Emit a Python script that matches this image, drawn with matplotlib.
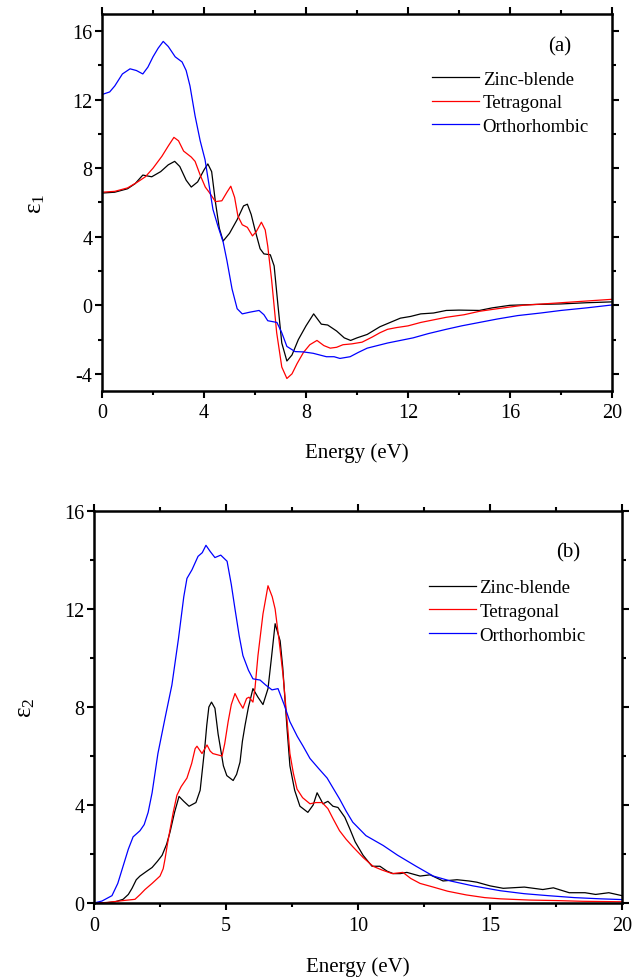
import numpy as np
import matplotlib
matplotlib.use("Agg")
import matplotlib.pyplot as plt
from matplotlib.ticker import MultipleLocator

plt.rcParams['font.family'] = ['Liberation Serif', 'DejaVu Serif']
plt.rcParams['mathtext.fontset'] = 'custom'
plt.rcParams['mathtext.rm'] = 'Liberation Sans'
plt.rcParams['mathtext.it'] = 'Liberation Sans'
plt.rcParams['axes.unicode_minus'] = False

labels = ['Zinc-blende', 'Tetragonal', 'Orthorhombic']
colors = ['black', 'red', 'blue']

# ---- eps1 (real part) ----
zb_e1 = [(0, 6.55), (0.5, 6.6), (1.0, 6.8), (1.3, 7.1), (1.6, 7.6), (1.95, 7.5), (2.3, 7.8), (2.6, 8.2),
         (2.85, 8.4), (3.05, 8.1), (3.3, 7.3), (3.5, 6.9), (3.75, 7.2), (4.0, 7.9), (4.15, 8.25), (4.3, 7.8),
         (4.45, 6.0), (4.6, 4.5), (4.75, 3.75), (5.0, 4.2), (5.3, 5.0), (5.55, 5.8), (5.7, 5.9), (5.85, 5.3),
         (6.0, 4.4), (6.2, 3.3), (6.35, 3.0), (6.6, 2.95), (6.75, 2.3), (6.9, 0.0), (7.05, -2.2), (7.25, -3.25),
         (7.45, -2.9), (7.7, -2.0), (8.0, -1.2), (8.3, -0.5), (8.45, -0.8), (8.6, -1.1), (8.85, -1.15),
         (9.2, -1.5), (9.5, -1.9), (9.75, -2.05), (10.0, -1.9), (10.4, -1.7), (10.9, -1.25), (11.3, -1.0),
         (11.7, -0.75), (12.1, -0.65), (12.5, -0.5), (13.0, -0.45), (13.5, -0.3), (14.0, -0.28), (14.8, -0.3),
         (15.3, -0.15), (16.0, 0.0), (17.0, 0.05), (18.0, 0.08), (19.0, 0.15), (20.0, 0.2)]
tet_e1 = [(0, 6.6), (0.5, 6.65), (1.0, 6.85), (1.4, 7.2), (1.7, 7.5), (2.0, 8.0), (2.35, 8.7), (2.6, 9.3),
          (2.82, 9.8), (3.0, 9.6), (3.2, 9.0), (3.5, 8.65), (3.65, 8.4), (3.85, 7.6), (4.05, 6.9), (4.2, 6.6),
          (4.45, 6.05), (4.7, 6.1), (4.9, 6.6), (5.05, 6.95), (5.2, 6.3), (5.33, 5.2), (5.5, 4.7), (5.7, 4.55),
          (5.9, 4.05), (6.05, 4.3), (6.25, 4.85), (6.4, 4.4), (6.5, 3.45), (6.65, 1.5), (6.85, -1.6),
          (7.05, -3.6), (7.25, -4.27), (7.45, -4.0), (7.65, -3.4), (7.9, -2.75), (8.15, -2.3), (8.43, -2.05),
          (8.7, -2.35), (8.95, -2.5), (9.2, -2.45), (9.45, -2.3), (9.8, -2.25), (10.2, -2.15), (10.6, -1.85),
          (10.9, -1.6), (11.2, -1.4), (11.55, -1.3), (12.0, -1.2), (12.5, -1.0), (13.0, -0.85), (13.5, -0.7),
          (14.2, -0.55), (14.8, -0.35), (15.5, -0.2), (16.5, 0.0), (17.5, 0.1), (18.5, 0.2), (20.0, 0.35)]
orth_e1 = [(0, 12.3), (0.3, 12.45), (0.5, 12.8), (0.8, 13.5), (1.1, 13.8), (1.35, 13.7), (1.6, 13.5),
           (1.8, 13.9), (2.0, 14.5), (2.2, 15.0), (2.4, 15.4), (2.6, 15.1), (2.87, 14.5), (3.14, 14.2),
           (3.3, 13.7), (3.45, 12.8), (3.65, 11.05), (3.85, 9.6), (4.04, 8.5), (4.2, 7.0), (4.35, 5.6),
           (4.55, 4.6), (4.75, 3.7), (4.9, 2.6), (5.1, 0.95), (5.3, -0.2), (5.5, -0.5), (5.8, -0.4),
           (6.16, -0.3), (6.35, -0.55), (6.5, -0.9), (6.86, -1.0), (7.05, -1.6), (7.25, -2.4), (7.57, -2.7),
           (7.9, -2.72), (8.28, -2.8), (8.8, -3.0), (9.1, -3.0), (9.33, -3.1), (9.73, -3.0), (10.05, -2.75),
           (10.4, -2.5), (10.8, -2.35), (11.2, -2.2), (11.7, -2.05), (12.2, -1.9), (12.8, -1.65), (13.5, -1.4),
           (14.1, -1.2), (14.8, -1.0), (15.5, -0.8), (16.3, -0.6), (17.2, -0.45), (18.0, -0.3), (19.0, -0.15),
           (20.0, 0.02)]

# ---- eps2 (imaginary part) ----
zb_e2 = [(0, 0), (0.5, 0.02), (0.8, 0.05), (1.1, 0.15), (1.3, 0.35), (1.44, 0.6), (1.6, 0.95), (1.74, 1.1),
         (2.0, 1.3), (2.2, 1.45), (2.4, 1.7), (2.58, 1.95), (2.75, 2.4), (2.88, 2.9), (3.05, 3.7), (3.22, 4.35),
         (3.4, 4.15), (3.6, 3.95), (3.86, 4.1), (4.02, 4.6), (4.12, 5.6), (4.2, 6.4), (4.27, 7.25), (4.35, 8.0),
         (4.45, 8.2), (4.58, 7.95), (4.7, 6.9), (4.77, 6.45), (4.9, 5.6), (5.03, 5.2), (5.27, 5.0), (5.4, 5.25),
         (5.53, 5.75), (5.62, 6.6), (5.72, 7.25), (5.85, 8.0), (6.02, 8.75), (6.21, 8.4), (6.4, 8.1),
         (6.59, 8.75), (6.72, 10.0), (6.86, 11.4), (7.05, 10.7), (7.15, 9.6), (7.23, 8.35), (7.32, 7.0),
         (7.42, 5.6), (7.6, 4.6), (7.8, 3.95), (8.1, 3.7), (8.3, 4.0), (8.45, 4.5), (8.6, 4.2), (8.67, 4.05),
         (8.86, 4.15), (9.05, 3.95), (9.24, 3.9), (9.5, 3.5), (9.7, 3.0), (9.89, 2.5), (10.19, 1.95),
         (10.53, 1.5), (10.83, 1.5), (11.1, 1.3), (11.33, 1.2), (11.6, 1.2), (11.85, 1.25), (12.35, 1.1),
         (12.73, 1.15), (13.22, 0.9), (13.75, 0.95), (14.2, 0.9), (14.5, 0.85), (15.0, 0.7), (15.5, 0.6),
         (16.3, 0.65), (17.0, 0.55), (17.4, 0.62), (18.0, 0.42), (18.6, 0.42), (19.0, 0.35), (19.5, 0.42),
         (20.0, 0.3)]
tet_e2 = [(0, 0), (0.5, 0.02), (1.1, 0.1), (1.55, 0.15), (1.75, 0.35), (1.93, 0.55), (2.2, 0.8), (2.5, 1.1),
          (2.62, 1.4), (2.69, 1.8), (2.78, 2.4), (2.88, 3.0), (3.0, 3.7), (3.14, 4.4), (3.3, 4.75), (3.52, 5.1),
          (3.7, 5.7), (3.83, 6.3), (3.9, 6.4), (4.09, 6.1), (4.28, 6.45), (4.4, 6.2), (4.5, 6.1), (4.85, 6.0),
          (4.95, 6.5), (5.08, 7.4), (5.2, 8.1), (5.34, 8.55), (5.5, 8.2), (5.64, 7.95), (5.78, 8.35),
          (5.87, 8.4), (6.02, 8.2), (6.1, 8.8), (6.21, 10.1), (6.4, 11.8), (6.59, 12.95), (6.75, 12.5),
          (6.86, 12.0), (7.0, 10.8), (7.16, 9.3), (7.3, 7.6), (7.42, 6.1), (7.55, 5.3), (7.69, 4.65),
          (7.9, 4.3), (8.18, 4.05), (8.4, 4.1), (8.64, 4.1), (8.86, 3.85), (9.05, 3.45), (9.3, 2.95),
          (9.55, 2.6), (9.8, 2.3), (10.2, 1.85), (10.57, 1.5), (10.9, 1.35), (11.3, 1.2), (11.7, 1.25),
          (12.0, 1.0), (12.35, 0.8), (12.85, 0.65), (13.4, 0.48), (14.1, 0.33), (14.8, 0.22), (15.4, 0.17),
          (16.5, 0.12), (17.5, 0.1), (18.5, 0.07), (20.0, 0.05)]
orth_e2 = [(0, 0), (0.3, 0.08), (0.68, 0.3), (0.9, 0.8), (1.1, 1.5), (1.3, 2.2), (1.48, 2.7), (1.74, 2.95),
           (1.9, 3.2), (2.05, 3.7), (2.2, 4.5), (2.42, 6.1), (2.7, 7.6), (2.95, 8.9), (3.2, 10.8), (3.4, 12.5),
           (3.52, 13.25), (3.71, 13.6), (3.94, 14.15), (4.1, 14.3), (4.24, 14.6), (4.4, 14.35), (4.58, 14.1),
           (4.8, 14.2), (5.04, 13.95), (5.2, 13.0), (5.34, 12.0), (5.5, 10.9), (5.64, 10.1), (5.85, 9.5),
           (6.02, 9.15), (6.29, 9.1), (6.5, 8.9), (6.74, 8.7), (6.97, 8.75), (7.2, 8.1), (7.42, 7.4),
           (7.7, 6.8), (7.92, 6.4), (8.18, 5.9), (8.5, 5.5), (8.83, 5.1), (9.05, 4.7), (9.3, 4.25), (9.55, 3.75),
           (9.8, 3.3), (10.3, 2.75), (10.95, 2.35), (11.5, 1.95), (12.2, 1.5), (12.85, 1.1), (13.5, 0.9),
           (14.35, 0.7), (15.4, 0.5), (16.3, 0.38), (17.2, 0.3), (18.2, 0.22), (19.2, 0.17), (20.0, 0.14)]


def style_axes(ax, xmaj, ymaj):
    for s in ax.spines.values():
        s.set_linewidth(1.8)
    ax.xaxis.set_major_locator(MultipleLocator(xmaj))
    ax.xaxis.set_minor_locator(MultipleLocator(xmaj / 2))
    ax.yaxis.set_major_locator(MultipleLocator(ymaj))
    ax.yaxis.set_minor_locator(MultipleLocator(ymaj / 2))
    ax.tick_params(which='both', direction='out', top=True, right=True, width=1.5)
    ax.tick_params(which='major', length=5, labelsize=14.5)
    ax.tick_params(which='minor', length=3)
    ax.tick_params(axis='y', which='major', pad=2)
    ax.tick_params(axis='x', which='major', pad=4)


fig = plt.figure(figsize=(6.34, 9.79), dpi=100)
ax1 = fig.add_axes([0.1609, 0.5996, 0.8044, 0.3851])
ax2 = fig.add_axes([0.1483, 0.0766, 0.8328, 0.4004])

for data, c, lab in zip([zb_e1, tet_e1, orth_e1], colors, labels):
    d = np.array(data)
    ax1.plot(d[:, 0], d[:, 1], color=c, lw=0.9, label=lab)
for data, c, lab in zip([zb_e2, tet_e2, orth_e2], colors, labels):
    d = np.array(data)
    ax2.plot(d[:, 0], d[:, 1], color=c, lw=0.9, label=lab)

ax1.set_xlim(0, 20)
ax1.set_ylim(-5, 17)
style_axes(ax1, 4, 4)
ax2.set_xlim(0, 20)
ax2.set_ylim(0, 16)
style_axes(ax2, 5, 4)

for ax, tag, lx, ly, ty, sub in [(ax1, '(a)', 0.647, 0.850, 0.915, '1'),
                                 (ax2, '(b)', 0.634, 0.826, 0.895, '2')]:
    ax.set_xlabel('Energy (eV)', fontsize=15)
    ax.xaxis.set_label_coords(0.5, -0.135)
    ax.set_ylabel(r'$\mathregular{ε_%s}$' % sub, fontsize=18)
    ax.yaxis.set_label_coords(-0.108, 0.5)
    ax.legend(loc='upper left', bbox_to_anchor=(lx, ly), frameon=False, fontsize=13.5,
              handlelength=2.5, handletextpad=0.2, labelspacing=0.35, borderpad=0, borderaxespad=0)
    ax.text(0.898, ty, tag, transform=ax.transAxes, ha='center', va='center', fontsize=15)

fig.savefig('out.png', dpi=100)
